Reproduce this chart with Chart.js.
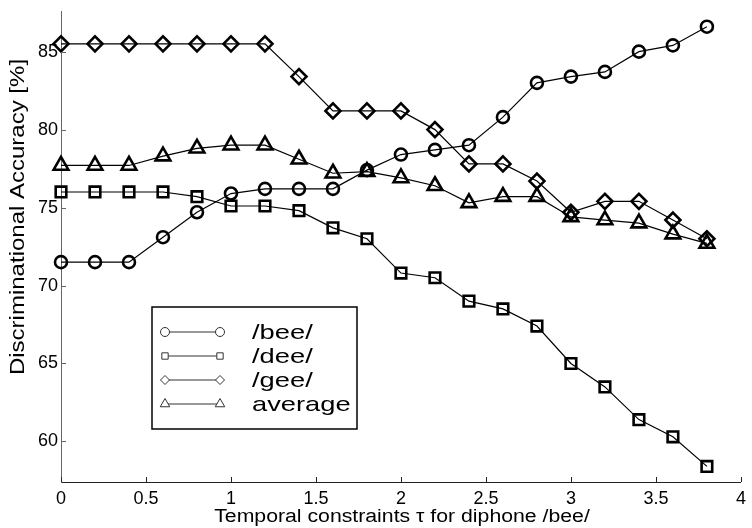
<!DOCTYPE html>
<html>
<head>
<meta charset="utf-8">
<title>Discriminational accuracy vs temporal constraint</title>
<script src="https://cdn.jsdelivr.net/npm/chart.js@4.4.1/dist/chart.umd.min.js"></script>
<style>
    html, body { margin: 0; padding: 0; background: #fff; }
    #wrap { width: 752px; height: 528px; }
</style>
</head>
<body>
<div id="wrap"><canvas id="accuracyChart" width="752" height="528"></canvas></div>
<script>
// Temporal constraint tau (x) and accuracy per diphone class (%)
const tauValues = [0, 0.2, 0.4, 0.6, 0.8, 1.0, 1.2, 1.4, 1.6, 1.8, 2.0, 2.2, 2.4, 2.6, 2.8, 3.0, 3.2, 3.4, 3.6, 3.8];
const beeAccuracy = [71.5, 71.5, 71.5, 73.1, 74.7, 75.9, 76.2, 76.2, 76.2, 77.4, 78.4, 78.7, 79.0, 80.8, 83.0, 83.4, 83.7, 85.0, 85.4, 86.6];
const deeAccuracy = [76.0, 76.0, 76.0, 76.0, 75.7, 75.1, 75.1, 74.8, 73.7, 73.0, 70.8, 70.5, 69.0, 68.5, 67.4, 65.0, 63.5, 61.4, 60.3, 58.4];
const geeAccuracy = [85.5, 85.5, 85.5, 85.5, 85.5, 85.5, 85.5, 83.4, 81.2, 81.2, 81.2, 80.0, 77.8, 77.8, 76.7, 74.7, 75.4, 75.4, 74.2, 73.0];
const averageAccuracy = [77.7, 77.7, 77.7, 78.3, 78.8, 79.0, 79.0, 78.1, 77.2, 77.3, 76.9, 76.4, 75.3, 75.7, 75.7, 74.4, 74.2, 74.0, 73.3, 72.7];

const seriesLabels = ['/bee/', '/dee/', '/gee/', 'average'];
const xTickValues = [0, 0.5, 1, 1.5, 2, 2.5, 3, 3.5, 4];
const yTickValues = [60, 65, 70, 75, 80, 85];

const xTitle = 'Temporal constraints \u03c4 for diphone /bee/';
const yTitle = 'Discriminational Accuracy [%]';

const FONT = '"Liberation Sans", Arial, Helvetica, sans-serif';

function toPoints(values) {
    return values.map((v, i) => ({ x: tauValues[i], y: v }));
}

function makeDataset(label, values, style, radius) {
    return {
        label: label,
        data: toPoints(values),
        borderColor: '#000',
        borderWidth: 1.2,
        pointStyle: style,
        pointRadius: radius,
        pointBorderWidth: 2.6,
        pointBorderColor: '#000',
        pointBackgroundColor: 'rgba(0,0,0,0)',
        tension: 0,
        clip: false
    };
}

// draw text stretched along its baseline
function stretchText(ctx, text, x, y, sx) {
    ctx.save();
    ctx.translate(x, y);
    ctx.scale(sx, 1);
    ctx.fillText(text, 0, 0);
    ctx.restore();
}

// inward tick marks, axis titles and the boxed legend
const figureDecor = {
    id: 'figureDecor',
    afterDatasetsDraw(chart) {
        const ctx = chart.ctx;
        const area = chart.chartArea;
        const xs = chart.scales.x;
        const ys = chart.scales.y;

        ctx.save();
        ctx.lineWidth = 1;
        ctx.strokeStyle = '#222';
        xTickValues.forEach(v => {
            const px = Math.round(xs.getPixelForValue(v)) + 0.5;
            ctx.beginPath();
            ctx.moveTo(px, area.bottom);
            ctx.lineTo(px, area.bottom - 5);
            ctx.stroke();
        });
        ctx.strokeStyle = '#666';
        yTickValues.forEach(v => {
            const py = Math.round(ys.getPixelForValue(v)) + 0.5;
            ctx.beginPath();
            ctx.moveTo(area.left, py);
            ctx.lineTo(area.left + 5, py);
            ctx.stroke();
        });

        // axis titles
        ctx.fillStyle = '#000';
        ctx.textAlign = 'center';
        ctx.textBaseline = 'middle';
        ctx.font = '18px ' + FONT;
        stretchText(ctx, xTitle, 402, 517, 1.18);

        ctx.save();
        ctx.translate(18, 217);
        ctx.rotate(-Math.PI / 2);
        ctx.font = '20px ' + FONT;
        stretchText(ctx, yTitle, 0, 0, 1.2);
        ctx.restore();

        // legend box
        const box = { left: 152, top: 307, width: 205, height: 122 };
        ctx.fillStyle = '#fff';
        ctx.fillRect(box.left, box.top, box.width, box.height);
        ctx.lineWidth = 1.5;
        ctx.strokeStyle = '#000';
        ctx.strokeRect(box.left, box.top, box.width, box.height);

        chart.data.datasets.forEach((ds, i) => {
            const rowY = box.top + 25 + i * 24;
            ctx.lineWidth = 1;
            ctx.strokeStyle = '#333';
            ctx.beginPath();
            ctx.moveTo(165, rowY);
            ctx.lineTo(220, rowY);
            ctx.stroke();

            ctx.fillStyle = '#fff';
            [165, 220].forEach(mx => {
                Chart.helpers.drawPoint(ctx, {
                    pointStyle: ds.pointStyle,
                    radius: ds.pointStyle === 'triangle' ? 5.5 : 4.5,
                    rotation: 0,
                    borderWidth: 1
                }, mx, rowY);
            });

            ctx.fillStyle = '#000';
            ctx.textAlign = 'left';
            ctx.textBaseline = 'middle';
            ctx.font = '21px ' + FONT;
            stretchText(ctx, ds.label, 252, rowY + 1, 1.3);
        });
        ctx.restore();
    }
};

const ctx = document.getElementById('accuracyChart');
new Chart(ctx, {
    type: 'line',
    data: {
        datasets: [
            makeDataset(seriesLabels[0], beeAccuracy, 'circle', 6),
            makeDataset(seriesLabels[1], deeAccuracy, 'rect', 7.5),
            makeDataset(seriesLabels[2], geeAccuracy, 'rectRot', 7.5),
            makeDataset(seriesLabels[3], averageAccuracy, 'triangle', 8.5)
        ]
    },
    options: {
        responsive: false,
        animation: false,
        layout: {
            padding: { top: 5, right: 3, left: 0, bottom: 0 }
        },
        plugins: {
            legend: { display: false },
            tooltip: { enabled: false }
        },
        scales: {
            x: {
                type: 'linear',
                min: 0,
                max: 4,
                afterBuildTicks: scale => {
                    scale.ticks = xTickValues.map(v => ({ value: v }));
                },
                afterFit: scale => {
                    scale.height = 46;
                    scale.paddingLeft = 0;
                    scale.paddingRight = 0;
                },
                grid: { display: false, drawTicks: false },
                border: { display: true, color: '#222', width: 1 },
                ticks: {
                    color: '#000',
                    padding: 6,
                    maxRotation: 0,
                    autoSkip: false,
                    callback: value => String(value),
                    font: { family: FONT, size: 18 }
                }
            },
            y: {
                type: 'linear',
                min: 57.4,
                max: 87.6,
                afterBuildTicks: scale => {
                    scale.ticks = yTickValues.map(v => ({ value: v }));
                },
                afterFit: scale => {
                    scale.width = 61;
                    scale.paddingTop = 0;
                    scale.paddingBottom = 0;
                },
                grid: { display: false, drawTicks: false },
                border: { display: true, color: '#666', width: 1 },
                ticks: {
                    color: '#000',
                    padding: 3,
                    autoSkip: false,
                    callback: value => String(value),
                    font: { family: FONT, size: 18 }
                }
            }
        }
    },
    plugins: [figureDecor]
});
</script>
</body>
</html>
